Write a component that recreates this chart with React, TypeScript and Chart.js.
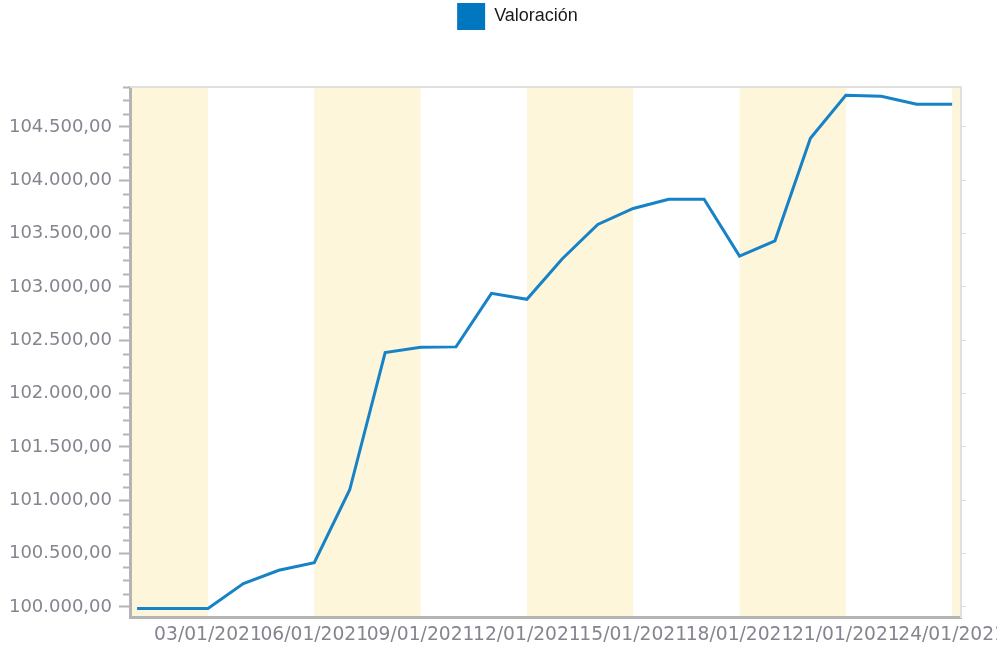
import { useEffect, useRef } from 'react';
import { Chart, registerables } from 'chart.js';

Chart.register(...registerables);

const dates = [
  '01/01/2021', '02/01/2021', '03/01/2021', '04/01/2021', '05/01/2021', '06/01/2021',
  '07/01/2021', '08/01/2021', '09/01/2021', '10/01/2021', '11/01/2021', '12/01/2021',
  '13/01/2021', '14/01/2021', '15/01/2021', '16/01/2021', '17/01/2021', '18/01/2021',
  '19/01/2021', '20/01/2021', '21/01/2021', '22/01/2021', '23/01/2021', '24/01/2021',
];

const valoracion = [
  99984, 99984, 99984, 100218, 100343, 100415,
  101098, 102384, 102435, 102438, 102940, 102884,
  103265, 103586, 103736, 103823, 103823, 103289,
  103433, 104394, 104797, 104788, 104713, 104713,
];

const yTicks = [100000, 100500, 101000, 101500, 102000, 102500, 103000, 103500, 104000, 104500];
const xTickDays = [3, 6, 9, 12, 15, 18, 21, 24];
const yMin = 99905;
const yMax = 104875;
const xMin = 0.8;
const xMax = 24.25;
const minorStep = 125;

const seriesLabel = 'Valoración';
const lineColor = '#1782c6';
const legendColor = '#0077be';
const bandColor = '#fdf6db';
const axisColor = '#b4b4b4';
const borderLight = '#e0e0e0';
const tickTextColor = '#858590';

const fmt = (v: number) => {
  const [i, d] = v.toFixed(2).split('.');
  return i.replace(/\B(?=(\d{3})+(?!\d))/g, '.') + ',' + d;
};

const decorPlugin = {
  id: 'decor',
  beforeInit(chart: any) {
    const legend = chart.legend;
    if (legend) {
      const origFit = legend.fit;
      legend.fit = function () {
        origFit.call(this);
        this.height = 87;
      };
    }
  },
  afterLayout(chart: any) {
    const legend = chart.legend;
    if (legend) {
      legend.left += 19;
      legend.right += 19;
    }
  },
  beforeDraw(chart: any) {
    const { ctx, chartArea: a, scales } = chart;
    const x = scales.x;
    const edges = [x.min, ...xTickDays, x.max];
    ctx.save();
    ctx.fillStyle = bandColor;
    for (let i = 0; i < edges.length - 1; i += 2) {
      const x0 = x.getPixelForValue(edges[i]);
      const x1 = x.getPixelForValue(edges[i + 1]);
      ctx.fillRect(x0, a.top, x1 - x0, a.bottom - a.top);
    }
    ctx.restore();
  },
  afterDraw(chart: any) {
    const { ctx, chartArea: a, scales } = chart;
    const y = scales.y;
    ctx.save();
    ctx.strokeStyle = borderLight;
    ctx.lineWidth = 2;
    ctx.beginPath();
    ctx.moveTo(a.left, a.top);
    ctx.lineTo(a.right + 1, a.top);
    ctx.stroke();
    ctx.strokeStyle = axisColor;
    ctx.lineWidth = 2;
    const start = Math.ceil(yMin / minorStep) * minorStep;
    for (let v = start; v <= yMax; v += minorStep) {
      if (v % 500 === 0) continue;
      const py = Math.round(y.getPixelForValue(v)) + 0.5;
      ctx.beginPath();
      ctx.moveTo(a.left - 7, py);
      ctx.lineTo(a.left, py);
      ctx.stroke();
    }
    ctx.restore();
  },
};

export default function App() {
  const ref = useRef<HTMLCanvasElement | null>(null);

  useEffect(() => {
    if (!ref.current) return;
    const tickFont = { family: 'DejaVu Sans', size: 18 };
    const xTickFont = { family: 'DejaVu Sans', size: 18.7 };
    const chart = new Chart(ref.current, {
      type: 'line',
      data: {
        datasets: [
          {
            label: seriesLabel,
            data: valoracion.map((v, i) => ({ x: i + 1, y: v })),
            borderColor: lineColor,
            backgroundColor: legendColor,
            borderWidth: 3,
            pointRadius: 0,
            tension: 0,
            fill: false,
          },
        ],
      },
      options: {
        responsive: false,
        animation: false,
        devicePixelRatio: 1,
        layout: { padding: 0 },
        plugins: {
          tooltip: { enabled: false },
          legend: {
            display: true,
            position: 'top',
            align: 'center',
            labels: {
              boxWidth: 28,
              boxHeight: 27,
              padding: 3,
              color: '#1a1a1a',
              font: { family: 'Liberation Sans', size: 18 },
              generateLabels: (chart: any) =>
                (Chart.defaults.plugins.legend.labels.generateLabels as any)(chart).map((l: any) => ({
                  ...l,
                  fillStyle: legendColor,
                  strokeStyle: legendColor,
                  lineWidth: 0,
                })),
            },
          },
        },
        scales: {
          x: {
            type: 'linear',
            min: xMin,
            max: xMax,
            afterBuildTicks: (s: any) => {
              s.ticks = xTickDays.map((v) => ({ value: v }));
            },
            afterFit: (s: any) => {
              s.height = 31;
              s.paddingLeft = 0;
              s.paddingRight = 0;
            },
            ticks: {
              autoSkip: false,
              maxRotation: 0,
              minRotation: 0,
              padding: 7,
              color: tickTextColor,
              font: xTickFont,
              callback: (v: any) => dates[Number(v) - 1] ?? '',
            },
            grid: { drawOnChartArea: false, drawTicks: false },
            border: { color: axisColor, width: 3 },
          },
          y: {
            type: 'linear',
            position: 'left',
            min: yMin,
            max: yMax,
            afterBuildTicks: (s: any) => {
              s.ticks = yTicks.map((v) => ({ value: v }));
            },
            afterFit: (s: any) => {
              s.width = 130;
              s.paddingTop = 0;
              s.paddingBottom = 0;
            },
            ticks: {
              padding: 7,
              color: tickTextColor,
              font: tickFont,
              callback: (v: any) => fmt(Number(v)),
            },
            grid: { drawOnChartArea: false, tickLength: 11, tickColor: axisColor, tickWidth: 2 },
            border: { color: axisColor, width: 3 },
          },
          y2: {
            type: 'linear',
            position: 'right',
            min: yMin,
            max: yMax,
            afterBuildTicks: (s: any) => {
              s.ticks = yTicks.map((v) => ({ value: v }));
            },
            afterFit: (s: any) => {
              s.width = 36;
              s.paddingTop = 0;
              s.paddingBottom = 0;
            },
            ticks: { callback: () => '', padding: 0 },
            grid: { drawOnChartArea: false, tickLength: 5, tickColor: '#dadada', tickWidth: 1 },
            border: { color: borderLight, width: 2 },
          },
        },
      },
      plugins: [decorPlugin],
    } as any);
    return () => chart.destroy();
  }, []);

  return (
    <div style={{ position: 'absolute', left: 0, top: 0, width: 997, height: 648, background: '#fff' }}>
      <canvas ref={ref} width={997} height={648} style={{ width: 997, height: 648, display: 'block' }} />
    </div>
  );
}
